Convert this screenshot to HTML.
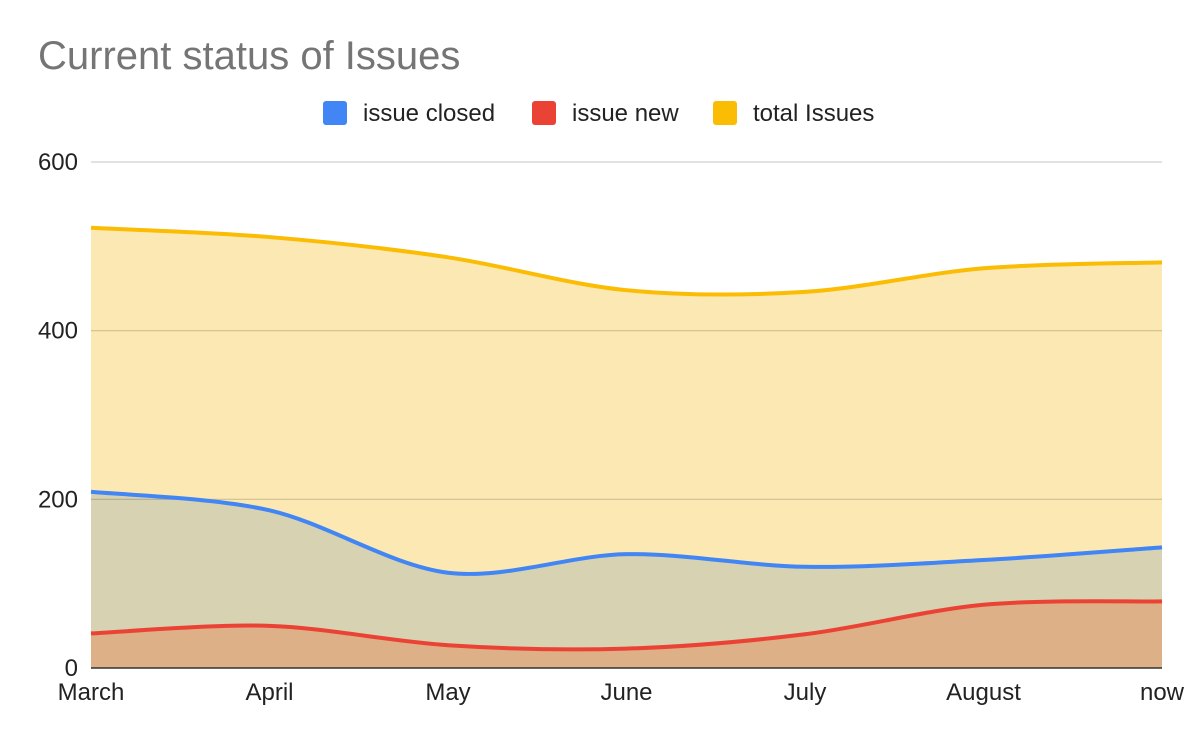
<!DOCTYPE html>
<html><head><meta charset="utf-8"><style>
body{margin:0;background:#fff;}
svg text{font-family:"Liberation Sans",Arial,sans-serif;}
</style></head><body>
<svg id="chart" width="1200" height="742">
<text x="38" y="69" font-size="40" fill="#757575">Current status of Issues</text>
<g id="legend">
<rect x="323" y="101" width="24" height="24" rx="3" fill="#4285f4"/>
<text x="363" y="121" font-size="24" fill="#222">issue closed</text>
<rect x="532" y="101" width="24" height="24" rx="3" fill="#ea4335"/>
<text x="572" y="121" font-size="24" fill="#222">issue new</text>
<rect x="713" y="101" width="24" height="24" rx="3" fill="#fbbc04"/>
<text x="753" y="121" font-size="24" fill="#222">total Issues</text>
</g>
<g id="areas"></g><g id="grid"></g><g id="lines"></g><g id="axes"></g>
</svg>
<script>
const categories=["March","April","May","June","July","August","now"];
const totalIssues=[522,511,487,448,446,474,481];
const issueClosed=[209,187,113,135,120,128,143];
const issueNew=[41,50,27,23,40,75,79];
const yTicks=[0,200,400,600];
const NS="http://www.w3.org/2000/svg";
const x0=91,x1=1162,yb=668,yt=162,ymax=600;
const xs=i=>x0+(x1-x0)*i/(categories.length-1);
const ys=v=>yb-(yb-yt)*v/ymax;
function mk(t,a,p){const e=document.createElementNS(NS,t);for(const k in a)e.setAttribute(k,a[k]);p.appendChild(e);return e;}
function curve(vals){const p=vals.map((v,i)=>[xs(i),ys(v)]);let d="M"+p[0][0]+","+p[0][1];const t=0.16;
for(let i=0;i<p.length-1;i++){const a=p[Math.max(0,i-1)],b=p[i],c=p[i+1],e=p[Math.min(p.length-1,i+2)];
d+=` C${b[0]+(c[0]-a[0])*t},${b[1]+(c[1]-a[1])*t} ${c[0]-(e[0]-b[0])*t},${c[1]-(e[1]-b[1])*t} ${c[0]},${c[1]}`;}return d;}
const grid=document.getElementById('grid'),areas=document.getElementById('areas'),lines=document.getElementById('lines'),axes=document.getElementById('axes');
yTicks.forEach(v=>{
 if(v>0){const l=mk('line',{x1:x0,x2:x1,y1:ys(v),y2:ys(v),stroke:'#000','stroke-opacity':0.18,'stroke-width':1.2},grid);
 
 }
 const t=mk('text',{x:78,y:ys(v)+8,'font-size':24,'text-anchor':'end',fill:'#222'},axes);t.textContent=v;
 
 
});
const series=[[totalIssues,'#fce8b2','#fbbc04','total'],[issueClosed,'#d7d2b2','#4285f4','closed'],[issueNew,'#deb087','#ea4335','new']];
series.forEach(s=>{const d=curve(s[0]);
 const a=mk('path',{d:d+` L${x1},${yb} L${x0},${yb} Z`,fill:s[1]},areas);
 
 
 const l=mk('path',{d:d,fill:'none',stroke:s[2],'stroke-width':4},lines);
 
 
});
const base=mk('line',{x1:x0,x2:x1,y1:yb,y2:yb,stroke:'#333','stroke-width':1.5},axes);


categories.forEach((c,i)=>{
 const t=mk('text',{x:xs(i),y:700,'font-size':24,'text-anchor':'middle',fill:'#222'},axes);t.textContent=c;
 
 
});
</script>
</body></html>
